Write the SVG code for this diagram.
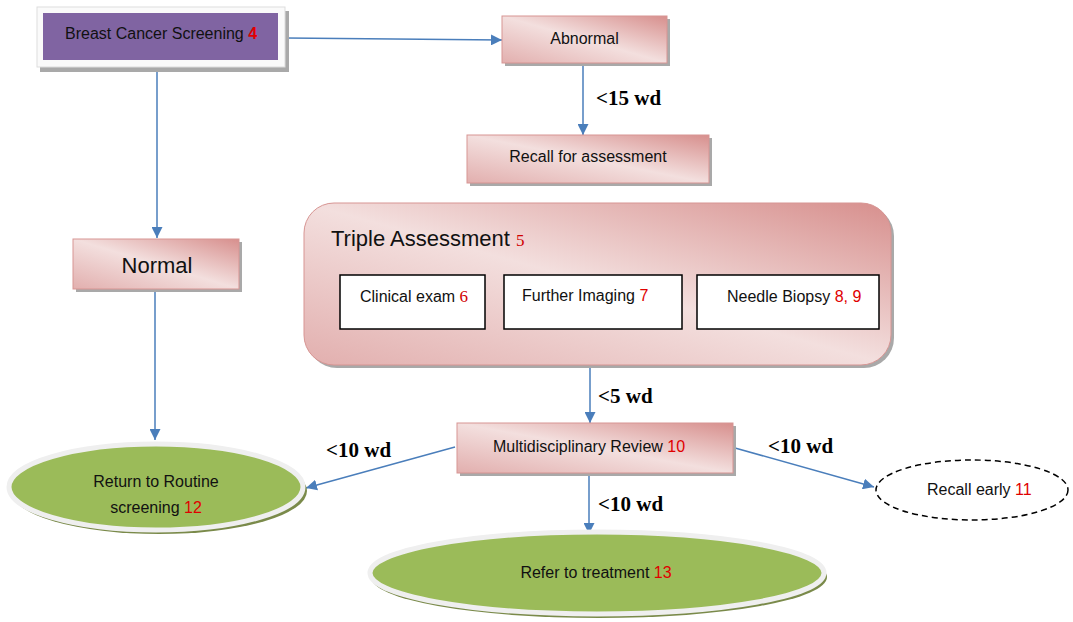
<svg xmlns="http://www.w3.org/2000/svg" width="1073" height="622" viewBox="0 0 1073 622">
<style>
.t{font-family:"Liberation Sans",Arial,sans-serif;font-size:16px;fill:#111}
.big{font-size:22px}
.r{fill:#E00000}
.rs{font-family:"Liberation Serif","Times New Roman",serif;fill:#D00000;font-size:17px}
.lbl{font-family:"Liberation Serif","Times New Roman",serif;font-weight:bold;font-size:21px;fill:#000}
.pink{fill:url(#pg);stroke:#D79593;stroke-width:1}
.shadow{fill:#A9A9A9}
.inner{fill:#fff;stroke:#000;stroke-width:1.5}
.green{fill:#9BBB59;stroke:#EFEFEF;stroke-width:5}
.gshadow{fill:#7A8A4A}
.conn line{stroke:#4A7EBB;stroke-width:1.5;marker-end:url(#ah)}
</style>
<defs>
<linearGradient id="pg" x1="1" y1="0" x2="0" y2="1">
<stop offset="0" stop-color="#D78F8D"/>
<stop offset="0.5" stop-color="#F3DFDE"/>
<stop offset="1" stop-color="#E2AFAE"/>
</linearGradient>
<marker id="ah" viewBox="0 0 10 10" refX="10" refY="5" markerWidth="11" markerHeight="11" markerUnits="userSpaceOnUse" orient="auto">
<path d="M0,0 L10,5 L0,10 z" fill="#4A7EBB"/>
</marker>
</defs>
<rect width="1073" height="622" fill="#fff"/>

<g class="conn">
<line x1="286" y1="38" x2="502" y2="40"/>
<line x1="157" y1="72" x2="157" y2="238"/>
<line x1="583" y1="64" x2="583" y2="135"/>
<line x1="155" y1="291" x2="155" y2="440"/>
<line x1="590" y1="366" x2="590" y2="423"/>
<line x1="455" y1="447" x2="306" y2="488"/>
<line x1="735" y1="448" x2="874" y2="487"/>
<line x1="589" y1="474" x2="589" y2="534"/>
</g>
<g id="labels">
<text class="lbl" x="596" y="105">&lt;15 wd</text>
<text class="lbl" x="598" y="403">&lt;5 wd</text>
<text class="lbl" x="326" y="457">&lt;10 wd</text>
<text class="lbl" x="768" y="453">&lt;10 wd</text>
<text class="lbl" x="598" y="511">&lt;10 wd</text>
</g>

<g id="bcs">
<rect x="40" y="11" width="249" height="61" class="shadow"/>
<rect x="37" y="7" width="248" height="60" fill="#FAFAFA" stroke="#DDDDDD" stroke-width="1"/>
<rect x="43" y="13" width="235" height="47" fill="#8064A2"/>
<text class="t" x="65" y="39">Breast Cancer Screening <tspan class="r" font-weight="bold">4</tspan></text>
</g>

<g id="abnormal">
<rect x="505" y="19" width="165" height="47" class="shadow"/>
<rect x="502" y="16" width="165" height="47" class="pink"/>
<text class="t" x="584.5" y="44" text-anchor="middle">Abnormal</text>
</g>

<g id="recall">
<rect x="470" y="138" width="242" height="48" class="shadow"/>
<rect x="467" y="135" width="242" height="48" class="pink"/>
<text class="t" x="588" y="162" text-anchor="middle">Recall for assessment</text>
</g>

<g id="triple">
<rect x="307" y="206" width="587" height="162" rx="30" class="shadow"/>
<rect x="304" y="203" width="587" height="162" rx="30" class="pink"/>
<text class="t big" x="331" y="246">Triple Assessment <tspan class="rs">5</tspan></text>
</g>
<g id="clinical">
<rect x="340" y="275" width="145" height="54" class="inner"/>
<text class="t" x="360" y="302">Clinical exam <tspan class="rs">6</tspan></text>
</g>
<g id="imaging">
<rect x="504" y="275" width="178" height="54" class="inner"/>
<text class="t" x="522" y="301">Further Imaging <tspan class="r">7</tspan></text>
</g>
<g id="biopsy">
<rect x="697" y="275" width="182" height="54" class="inner"/>
<text class="t" x="727" y="302">Needle Biopsy <tspan class="r">8, 9</tspan></text>
</g>

<g id="normal">
<rect x="76" y="242" width="166" height="50" class="shadow"/>
<rect x="73" y="239" width="166" height="50" class="pink"/>
<text class="t big" x="157" y="273" text-anchor="middle">Normal</text>
</g>

<g id="mdr">
<rect x="460" y="426" width="276" height="50" class="shadow"/>
<rect x="457" y="423" width="276" height="50" class="pink"/>
<text class="t" x="493" y="452">Multidisciplinary Review <tspan class="r">10</tspan></text>
</g>

<g id="routine">
<ellipse cx="159" cy="491" rx="148" ry="43" class="gshadow"/>
<ellipse cx="156" cy="487" rx="147" ry="43" class="green"/>
<text class="t" x="156" y="487" text-anchor="middle">Return to Routine</text>
<text class="t" x="156" y="513" text-anchor="middle">screening <tspan class="r">12</tspan></text>
</g>

<g id="recall-early">
<ellipse cx="972" cy="490" rx="96" ry="30" fill="#fff" stroke="#000" stroke-width="1.5" stroke-dasharray="6,4"/>
<text class="t" x="927" y="495">Recall early <tspan class="r">11</tspan></text>
</g>

<g id="treatment">
<ellipse cx="599" cy="577" rx="228" ry="41" class="gshadow"/>
<ellipse cx="597" cy="573" rx="227" ry="41" class="green"/>
<text class="t" x="596" y="578" text-anchor="middle">Refer to treatment <tspan class="r">13</tspan></text>
</g>
</svg>
